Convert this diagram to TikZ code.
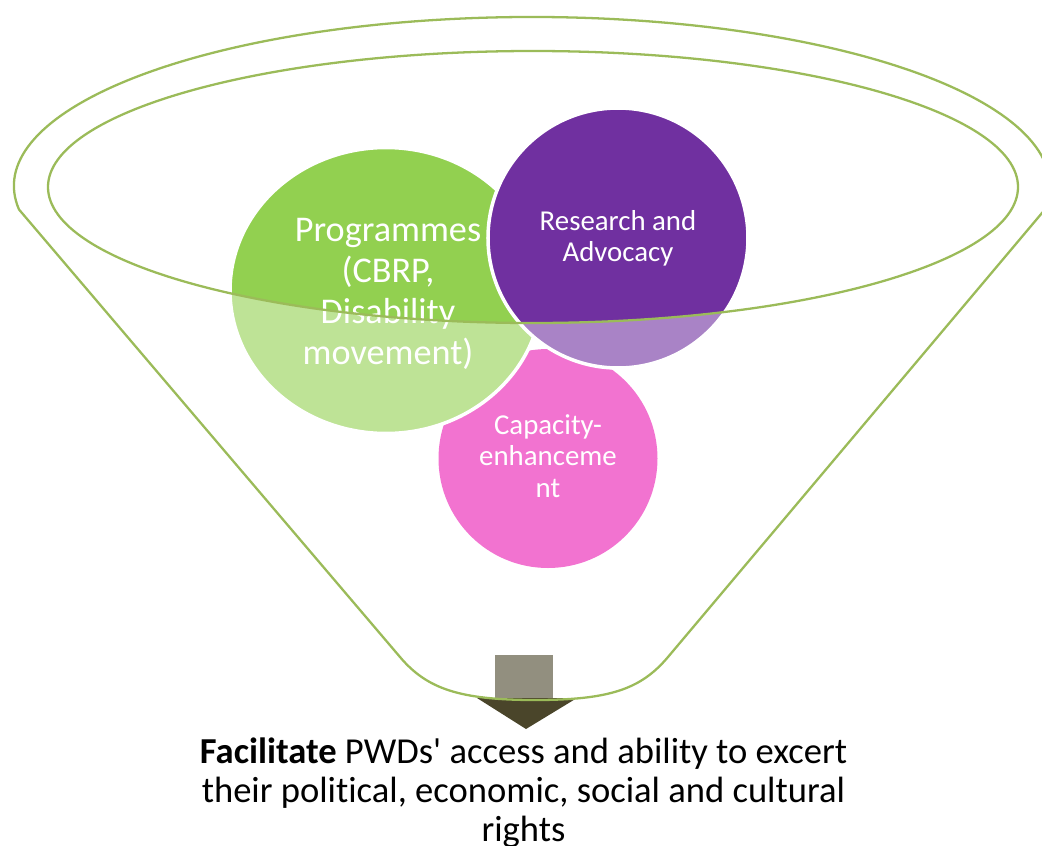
\documentclass[tikz,border=0pt]{standalone}
\usepackage{fontspec}
\setmainfont{Carlito}[Ligatures={NoCommon}]
\definecolor{fgreen}{RGB}{146,208,80}
\definecolor{fgreenl}{RGB}{190,227,150}
\definecolor{fpurple}{RGB}{112,48,160}
\definecolor{fpurplel}{RGB}{169,131,198}
\definecolor{fpink}{RGB}{242,115,208}
\definecolor{fline}{RGB}{155,187,89}
\definecolor{farrow}{RGB}{74,69,42}
\definecolor{farrowl}{RGB}{146,143,127}
\begin{document}
\begin{tikzpicture}[x=0.01cm,y=0.01cm,
  rim/.style={draw=fline,line width=0.65pt},
  ring/.style={draw=white,line width=1pt},
  lbl/.style={text=white,align=center,inner sep=0pt}]
\useasboundingbox (0,0) rectangle (1042,-845);
% pink circle (behind the others)
\fill[fpink] (548,-458.5) circle[radius=109.5];
% green
\fill[fgreen] (386,-290.5) ellipse[x radius=156,y radius=143];
\begin{scope}
\clip (0,-187) -- (48,-187) arc[start angle=180,end angle=360,x radius=485,y radius=136] -- (1042,-187) -- (1042,-845) -- (0,-845) -- cycle;
\fill[fgreenl] (386,-290.5) ellipse[x radius=156,y radius=143];
\end{scope}
\draw[ring] (386,-290.5) ellipse[x radius=156,y radius=143];
% purple
\fill[fpurple] (618,-238) circle[radius=130];
\begin{scope}
\clip (0,-187) -- (48,-187) arc[start angle=180,end angle=360,x radius=485,y radius=136] -- (1042,-187) -- (1042,-845) -- (0,-845) -- cycle;
\fill[fpurplel] (618,-238) circle[radius=130];
\end{scope}
\draw[ring] (618,-238) circle[radius=130];
% arrow
\fill[farrowl] (495,-655) rectangle (553,-698);
\fill[farrow] (477,-698) -- (577,-698) -- (526,-729) -- cycle;
% labels
\node[lbl,font=\fontsize{10.3}{11.7}\selectfont] (prog) at (388,-294) {Programmes\\(CBRP,\\Disability\\movement)};
\node[lbl,font=\fontsize{8.2}{8.8}\selectfont] (res) at (618,-238.5) {Research and\\Advocacy};
\node[lbl,font=\fontsize{8.2}{9}\selectfont] (cap) at (548,-456) {Capacity-\\enhanceme\\nt};
\node[align=center,inner sep=0pt,anchor=north,font=\fontsize{10.4}{11.1}\selectfont] (goal) at (523.5,-737) {\textbf{Facilitate} PWDs{\textquotesingle} access and ability to excert\\their political, economic, social and cultural\\rights};
% funnel outline
\coordinate (ol) at (19,-209.5);
\coordinate (bl) at (400,-657);
\coordinate (br) at (668,-657);
\draw[rim] (bl) -- (ol) arc[start angle=188,end angle=-8,x radius=518,y radius=169] -- (br) .. controls (641,-689) and (610,-700) .. (535,-700) .. controls (460,-700) and (427,-689) .. (bl);
\draw[rim] (533,-187) ellipse[x radius=485,y radius=136];
\end{tikzpicture}
\end{document}
